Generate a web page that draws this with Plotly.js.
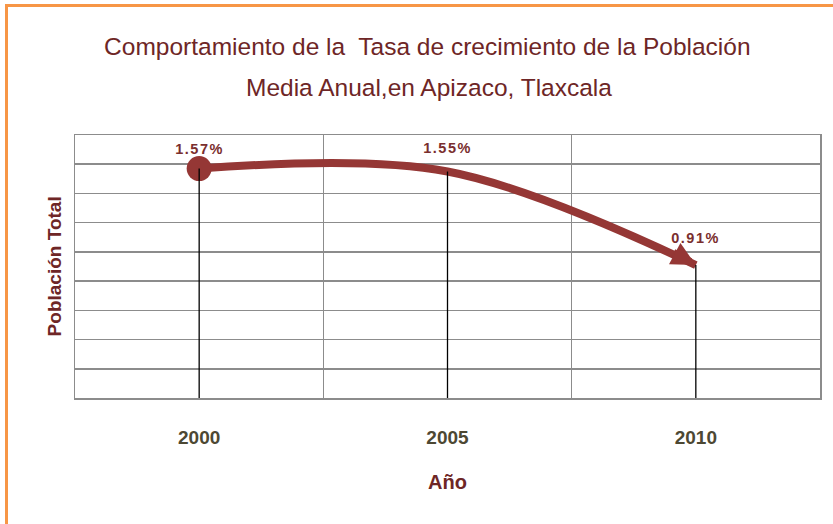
<!DOCTYPE html>
<html>
<head>
<meta charset="utf-8">
<script src="https://cdn.plot.ly/plotly-3.0.1.min.js"></script>
<style>
  html, body { margin: 0; padding: 0; background: #fff; }
  #wrap { position: relative; width: 833px; height: 524px; overflow: hidden; }
  #chart { width: 833px; height: 524px; }
  #frame { position: absolute; left: 5px; top: 4px; width: 840px; height: 540px;
           border-left: 3.5px solid #f79646; border-top: 3.5px solid #f79646;
           pointer-events: none; box-sizing: border-box; }
  .annotation[data-index="0"] text, .annotation[data-index="1"] text, .annotation[data-index="2"] text { letter-spacing: 1.5px; }
</style>
</head>
<body>
<div id="wrap">
  <div id="chart"></div>
  <div id="frame"></div>
</div>
<script>
// ---- data ----
const years = ['2000', '2005', '2010'];
const rates = [1.57, 1.55, 0.91];
const rateLabels = ['1.57%', '1.55%', '0.91%'];
const titleLine1 = 'Comportamiento de la  Tasa de crecimiento de la Población';
const titleLine2 = 'Media Anual,en Apizaco, Tlaxcala';
const xTitle = 'Año';
const yTitle = 'Población Total';

const sans = '"Liberation Sans", Arial, sans-serif';
const red = '#953735';
const darkRed = '#6e2626';
const last = years.length - 1;
const labelShift = [20, 24, 27];

// drop lines built from the data
const dropX = [], dropY = [];
years.forEach((y, i) => { dropX.push(y, y, y); dropY.push(0, rates[i], null); });

const traces = [
  {
    x: years, y: rates, type: 'scatter', mode: 'lines+markers',
    line: { color: red, width: 8, shape: 'spline', smoothing: 1, backoff: 12 },
    marker: {
      color: red, opacity: 1,
      size: years.map((_, i) => i === 0 ? 25 : 0),
      line: { width: 0 }
    },
    hoverinfo: 'skip', showlegend: false
  },
  {
    x: dropX, y: dropY, type: 'scatter', mode: 'lines',
    line: { color: '#000', width: 1.3 }, connectgaps: false,
    hoverinfo: 'skip', showlegend: false
  }
];

const annotations = years.map((y, i) => ({
  x: i, y: rates[i], xref: 'x', yref: 'y', text: rateLabels[i], showarrow: false,
  yshift: labelShift[i], font: { family: sans, size: 14.5, color: '#7a2e2e', weight: 'bold' }
}));
annotations.push({
  x: 0.475, y: 1.1825, xref: 'paper', yref: 'paper', text: titleLine2, showarrow: false,
  xanchor: 'center', yanchor: 'middle',
  font: { family: sans, size: 24.5, color: darkRed }
});
// arrow head at the last point
annotations.push({
  x: last, y: rates[last], xref: 'x', yref: 'y', text: '', showarrow: true,
  ax: -24, ay: -13, arrowhead: 2, arrowsize: 0.6, arrowwidth: 8, arrowcolor: red, standoff: 0
});
// axis titles
annotations.push({
  x: 0.5, y: -0.319, xref: 'paper', yref: 'paper', text: xTitle, showarrow: false,
  xanchor: 'center', yanchor: 'middle',
  font: { family: sans, size: 20, color: darkRed, weight: 'bold' }
});
annotations.push({
  x: -0.027, y: 0.5, xref: 'paper', yref: 'paper', text: yTitle, showarrow: false, textangle: -90,
  xanchor: 'center', yanchor: 'middle',
  font: { family: sans, size: 19, color: darkRed, weight: 'bold' }
});

const layout = {
  width: 833, height: 524,
  margin: { l: 75, r: 13, t: 135, b: 126 },
  paper_bgcolor: '#fff', plot_bgcolor: '#fff',
  title: {
    text: titleLine1, x: 0.513, xanchor: 'center', y: 1 - 46 / 524, yanchor: 'middle', yref: 'container',
    font: { family: sans, size: 24.5, color: darkRed }
  },
  xaxis: {
    type: 'category', tickson: 'boundaries', range: [-0.5, 2.5],
    showgrid: true, gridcolor: '#8c8c8c', gridwidth: 1.5,
    showline: true, linecolor: '#8c8c8c', linewidth: 1.5, mirror: true,
    ticks: 'outside', ticklen: 0, tickcolor: 'rgba(0,0,0,0)', ticklabelstandoff: 22,
    tickfont: { family: sans, size: 19, color: '#4d4833', weight: 'bold' },
    zeroline: false, fixedrange: true
  },
  yaxis: {
    range: [0, 1.8], dtick: 0.2, tick0: 0,
    showgrid: true, gridcolor: '#8c8c8c', gridwidth: 1.5,
    showline: true, linecolor: '#8c8c8c', linewidth: 1.5, mirror: true,
    showticklabels: false, ticks: '', zeroline: false,
    fixedrange: true
  },
  annotations: annotations,
  showlegend: false
};

Plotly.newPlot('chart', traces, layout, { displayModeBar: false, staticPlot: true });
</script>
</body>
</html>
